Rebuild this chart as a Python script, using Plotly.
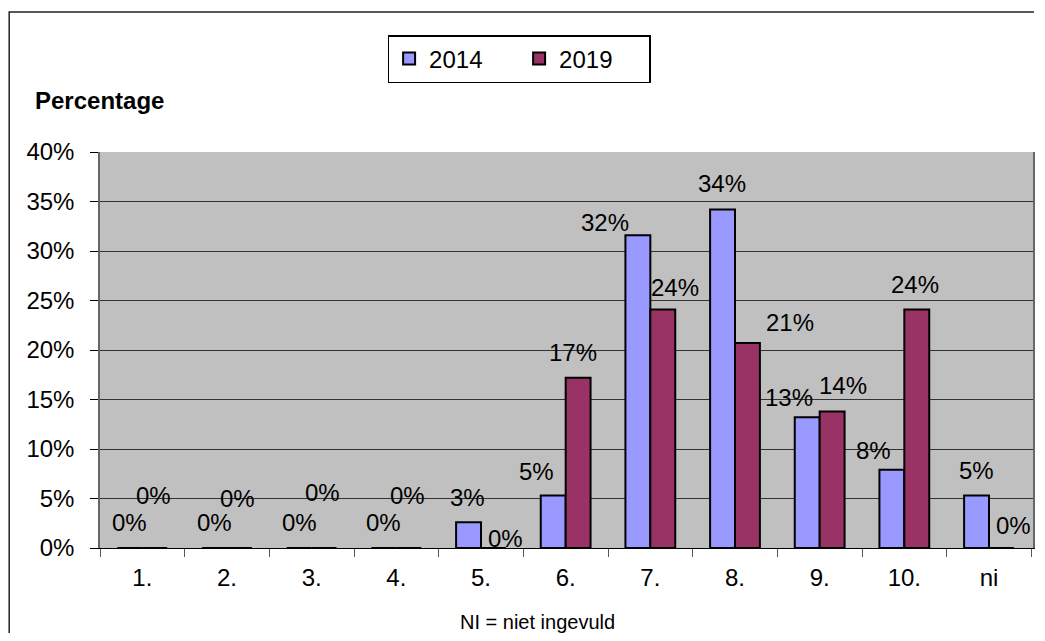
import plotly.graph_objects as go

categories = ["1.", "2.", "3.", "4.", "5.", "6.", "7.", "8.", "9.", "10.", "ni"]
values_2014 = [0, 0, 0, 0, 2.6, 5.3, 31.6, 34.2, 13.2, 7.9, 5.3]
values_2019 = [0, 0, 0, 0, 0, 17.2, 24.1, 20.7, 13.8, 24.1, 0]
series_names = ["2014", "2019"]
y_ticks = [0, 5, 10, 15, 20, 25, 30, 35, 40]

# label offsets (px) relative to the top-centre of each bar: (dx, dy up)
offsets_2014 = [(0, 26), (0, 26), (0, 26), (0, 26), (-1, 25), (-17, 24),
                (-33, 13), (-1, 26), (-18, 20), (-18, 19), (0, 25)]
offsets_2019 = [(-1, 53), (-2, 50), (-2, 56), (-1, 53), (12, 10), (-5, 25),
                (12, 22), (42, 21), (11, 26), (-2, 25), (12, 23)]

FONT = "Arial, Liberation Sans, sans-serif"
# page body has an 8px margin on every side, so the figure is drawn smaller
PAGE_OFF = 8
W, H = 1045 - 2 * PAGE_OFF, 641 - 2 * PAGE_OFF
PLOT_L, PLOT_R, PLOT_T, PLOT_B = 100, 1035, 152, 548   # target screen coords
ML, MT = PLOT_L - PAGE_OFF, PLOT_T - PAGE_OFF
MR = W - (PLOT_R - PAGE_OFF)
MB = H - (PLOT_B - PAGE_OFF)
PW, PH = PLOT_R - PLOT_L, PLOT_B - PLOT_T
bar_px = 25


def px(xs):
    return (xs - PLOT_L) / PW


def py(ys):
    return (PLOT_B - ys) / PH


fig = go.Figure()
fig.add_trace(go.Bar(name=series_names[0], x=categories, y=values_2014,
                     marker=dict(color="#9999FF", line=dict(color="black", width=2))))
fig.add_trace(go.Bar(name=series_names[1], x=categories, y=values_2019,
                     marker=dict(color="#993366", line=dict(color="black", width=2))))

annotations = []
for vals, offs, sign in ((values_2014, offsets_2014, -1), (values_2019, offsets_2019, 1)):
    for i, (v, (dx, dy)) in enumerate(zip(vals, offs)):
        annotations.append(dict(x=i, y=v, xref="x", yref="y", text=f"{round(v)}%",
                                showarrow=False, xanchor="center", yanchor="middle",
                                xshift=sign * bar_px / 2 + dx, yshift=dy,
                                font=dict(size=24, color="black", family=FONT)))

annotations.append(dict(x=px(33), y=py(100), xref="paper", yref="paper",
                        text="<b>Percentage</b>", showarrow=False, xanchor="left",
                        yanchor="middle", font=dict(size=24, color="black", family=FONT)))
annotations.append(dict(x=px(538), y=py(622), xref="paper", yref="paper",
                        text="NI = niet ingevuld", showarrow=False, xanchor="center",
                        yanchor="middle", font=dict(size=20, color="black", family=FONT)))

# outer chart frame: only its left and top edges fall inside the picture
frame_path = "M {x0},{yb} L {x0},{yt} L {xr},{yt}".format(
    x0=px(9), yb=py(720), yt=py(12), xr=px(1036))

fig.update_layout(
    width=W, height=H,
    margin=dict(l=ML, r=MR, t=MT, b=MB),
    paper_bgcolor="white", plot_bgcolor="#C0C0C0",
    barmode="group", bargap=(85 - 2 * bar_px) / 85, bargroupgap=0,
    font=dict(family=FONT, size=24, color="black"),
    showlegend=True,
    legend=dict(orientation="h", x=px(520), xanchor="center",
                y=py(35), yanchor="top",
                bordercolor="black", borderwidth=1.5, bgcolor="white",
                font=dict(size=24, family=FONT), itemwidth=30,
                entrywidth=85, traceorder="normal"),
    annotations=annotations,
    shapes=[dict(type="path", xref="paper", yref="paper", path=frame_path,
                 line=dict(color="#222222", width=1.5), layer="below")],
)
fig.update_xaxes(type="category", tickson="boundaries", ticks="outside", ticklen=8,
                 tickcolor="#555555", showline=True, linecolor="black", linewidth=1,
                 mirror=False, showgrid=False, tickfont=dict(size=24),
                 ticklabelstandoff=8)
fig.update_yaxes(range=[0, 40], tickvals=y_ticks, ticktext=[f"{t}%" for t in y_ticks],
                 ticks="outside", ticklen=8, tickcolor="black",
                 showline=True, linecolor="#666666", linewidth=1.5, mirror=True,
                 showgrid=True, gridcolor="#333333", gridwidth=1, zeroline=False,
                 tickfont=dict(size=24), ticklabelstandoff=11)
fig.write_html("out.html")
